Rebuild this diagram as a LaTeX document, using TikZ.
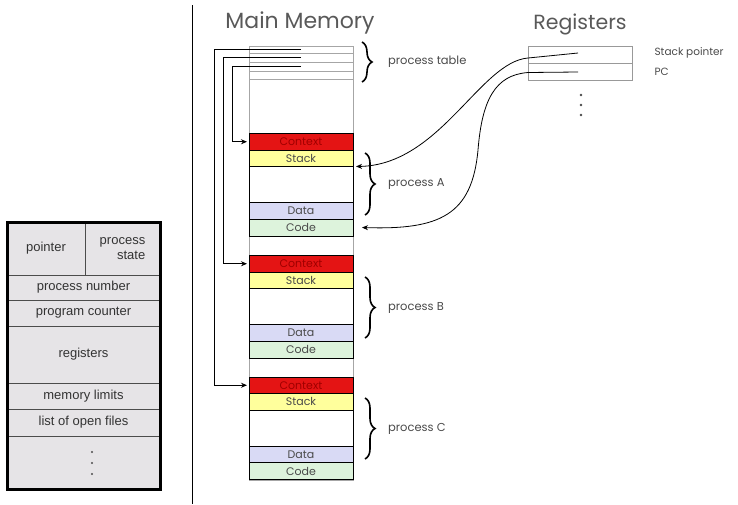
\documentclass[tikz,border=0pt]{standalone}
\usepackage{fontspec}
\setmainfont{Liberation Sans}
\newfontfamily\memfont{Poppins}
\usetikzlibrary{positioning, arrows.meta, calc, decorations.pathreplacing}

\definecolor{ctxRed}{HTML}{E41414}
\definecolor{ctxTxt}{HTML}{A00000}
\definecolor{stkYel}{HTML}{FFFF9C}
\definecolor{datLav}{HTML}{D9DAF5}
\definecolor{codGrn}{HTML}{DDF3DC}
\definecolor{pcbGray}{HTML}{E6E4E7}
\definecolor{txtGray}{HTML}{4A4A4A}

\begin{document}
\begin{tikzpicture}[
  x=1pt, y=-1pt,
  font=\memfont,
  cell/.style  = {draw=black, line width=1pt, minimum width=104pt, inner sep=0pt, outer sep=0pt, font=\memfont\fontsize{11}{11}\selectfont, text=txtGray},
  cCtx/.style  = {cell, fill=ctxRed, text=ctxTxt, minimum height=16.5pt},
  cStk/.style  = {cell, fill=stkYel, minimum height=16.5pt},
  cGap/.style  = {cell, fill=white, minimum height=36pt},
  cDat/.style  = {cell, fill=datLav, minimum height=16.5pt},
  cCod/.style  = {cell, fill=codGrn, minimum height=17pt},
  ptrow/.style = {draw=gray!70, line width=0.5pt, minimum width=104pt, inner sep=0pt, outer sep=0pt},
  regrow/.style = {draw=gray!80, line width=0.7pt, minimum width=104pt, minimum height=17pt, inner sep=0pt, outer sep=0pt},
  pcb/.style   = {draw=gray!60!black, line width=0.8pt, fill=pcbGray, inner sep=0pt, outer sep=0pt, minimum width=153pt, font=\fontsize{13}{15}\selectfont, text=black!80, align=center, anchor=north west},
  ptr/.style   = {draw=black, line width=0.9pt, -{Stealth[length=6pt,width=5pt]}},
  brc/.style   = {decorate, decoration={brace, amplitude=10pt}, line width=1.6pt},
  lbl/.style   = {font=\memfont\fontsize{11.5}{12}\selectfont, text=txtGray, anchor=west},
  hdr/.style   = {font=\memfont\fontsize{22}{22}\selectfont, text=black!65},
]
% one process image in memory: #1 name suffix  #2 top y
\newcommand{\procblock}[2]{%
  \node[cCtx, anchor=north] (ctx#1) at (301,#2) {Context};
  \node[cStk, below=0pt of ctx#1] (stk#1) {Stack};
  \node[cGap, below=0pt of stk#1] (gap#1) {};
  \node[cDat, below=0pt of gap#1] (dat#1) {Data};
  \node[cCod, below=0pt of dat#1] (cod#1) {Code};
}
\useasboundingbox (0,0) rectangle (738,504);
% --- process control block (left)
\node[pcb, minimum width=78pt, minimum height=53pt] (pcbPtr) at (7,222) {pointer};
\node[pcb, minimum width=75pt, minimum height=53pt, align=right] (pcbState) at (85,222) {process\\state};
\node[pcb, minimum height=25pt] (pcbNum) at (7,275) {process number};
\node[pcb, minimum height=26pt] (pcbPC) at (7,300) {program counter};
\node[pcb, minimum height=57pt] (pcbRegs) at (7,326) {registers};
\node[pcb, minimum height=26pt] (pcbLim) at (7,383) {memory limits};
\node[pcb, minimum height=27pt] (pcbFiles) at (7,409) {list of open files};
\node[pcb, minimum height=53pt] (pcbMore) at (7,436) {};
\foreach \yy in {452,463,474} \fill[black!70] (92,\yy) circle (1.2pt);
\draw[line width=3pt] (pcbPtr.north west) rectangle (pcbMore.south east);
\draw[line width=1.6pt] (192.5,5) -- (192.5,504);
% --- main memory
\node[hdr] (memHdr) at (300,23) {Main Memory};
\node[draw=gray!70, line width=0.5pt, minimum width=104pt, minimum height=434pt, inner sep=0pt, anchor=north] (memCol) at (301,46) {};
\foreach \i/\yt/\h in {1/46/7, 2/53/9, 3/62/9, 4/71/8}
  \node[ptrow, minimum height=\h pt, anchor=north] (pt\i) at (301,\yt) {};
\procblock{A}{133.5}
\procblock{B}{255.5}
\procblock{C}{377}
\draw[ptr] (pt1.center) -| ([xshift=-35pt]ctxC.west) -- ([xshift=-2pt]ctxC.west);
\draw[ptr] (pt2.center) -| ([xshift=-26pt]ctxB.west) -- ([xshift=-2pt]ctxB.west);
\draw[ptr] (pt3.center) -| ([xshift=-17pt]ctxA.west) -- ([xshift=-2pt]ctxA.west);
\draw[brc] (362,42) -- (362,82) node[lbl, midway, right=22pt] (ptLbl) {process table};
\draw[brc] (365,153) -- (365,215) node[lbl, midway, right=19pt] (lblA) {process A};
\draw[brc] (365,277) -- (365,338) node[lbl, midway, right=19pt] (lblB) {process B};
\draw[brc] (365,398) -- (365,459) node[lbl, midway, right=19pt] (lblC) {process C};
% --- registers
\node[hdr, font=\memfont\fontsize{20.5}{21}\selectfont] (regHdr) at (580,24) {Registers};
\node[regrow, anchor=north] (regSP) at (580,46) {};
\node[regrow, below=0pt of regSP] (regPC) {};
\node[lbl, font=\memfont\fontsize{10.5}{11}\selectfont] (spLbl) at (651,53) {Stack pointer};
\node[lbl, font=\memfont\fontsize{10.5}{11}\selectfont] (pcLbl) at (651,72) {PC};
\foreach \yy in {95,105,115} \fill[txtGray] (581,\yy) circle (1.3pt);
\coordinate (spIn) at (578,53);
\coordinate (pcIn) at (578,72);
\draw[ptr, line width=0.8pt] (spIn) -- ($(regSP.west)+(0,3.5)$)
  .. controls (480,62) and (440,165) .. ([xshift=3pt]stkA.south east);
\draw[ptr, line width=0.8pt] (pcIn) -- ($(regPC.west)+(0,1)$)
  .. controls (495,75) and (482,100) .. (478,150)
  .. controls (472,215) and (440,230) .. ([xshift=9pt]codA.east);
\end{tikzpicture}
\end{document}
